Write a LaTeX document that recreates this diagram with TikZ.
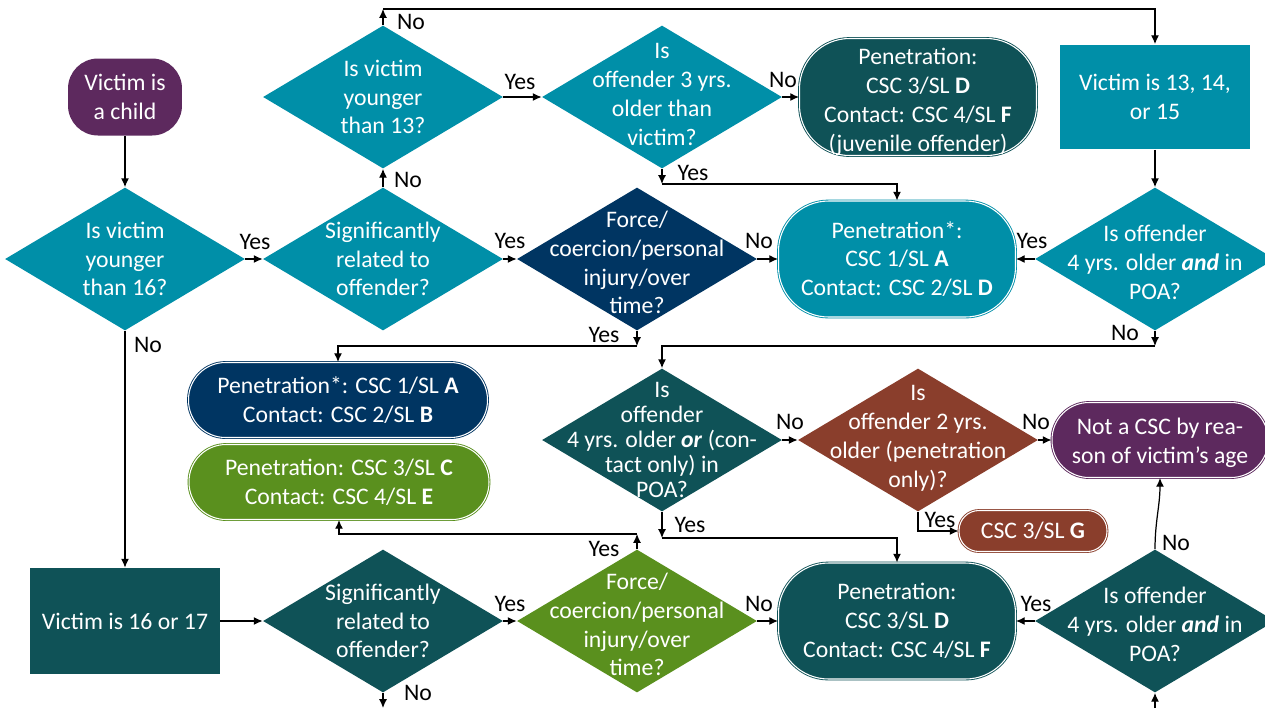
\documentclass[tikz,border=0pt]{standalone}
\usepackage{fontspec}
\setmainfont{Carlito}
\usetikzlibrary{shapes.geometric,arrows.meta}

\definecolor{cpurple}{RGB}{93,41,94}
\definecolor{cteal}{RGB}{0,143,168}
\definecolor{cdark}{RGB}{15,82,87}
\definecolor{cnavy}{RGB}{0,53,98}
\definecolor{cgreen}{RGB}{90,144,30}
\definecolor{cbrown}{RGB}{138,62,44}

\tikzset{
  dia/.style={diamond, minimum width=4.8cm, minimum height=2.86cm, inner sep=0pt, fill=#1, draw=none},
  txt/.style={text=white, align=center, font=\fontsize{13.5}{16.4}\selectfont, inner sep=0pt},
  term/.style={fill=#1, draw=#1, double=white, double distance=0.6pt, line width=0.5pt},
  boxx/.style={fill=#1, draw=none},
  lab/.style={font=\fontsize{13.5}{16}\selectfont, inner sep=0pt, text=black},
  conn/.style={draw=black, line width=0.7pt, -{Latex[length=5pt,width=4.5pt]}},
}

\begin{document}
\begin{tikzpicture}[x=0.02cm,y=-0.02cm]
\useasboundingbox (0,0) rectangle (1265,708);
\fill[white] (0,0) rectangle (1265,708);

% ---- nodes ----
\node[boxx=cpurple, rounded corners=0.6cm, minimum width=2.28cm, minimum height=1.54cm, txt] (child) at (125,97) {Victim is\\a child};

\node[dia=cteal] (d16) at (125,259) {};
\node[txt] (d16t) at (d16) {Is victim\\younger\\than 16?};

\node[dia=cteal] (s1) at (383,259) {};
\node[txt] (s1t) at (s1) {Significantly\\related to\\offender?};

\node[dia=cteal] (y13) at (383,97) {};
\node[txt] (y13t) at (y13) {Is victim\\younger\\than 13?};

\node[dia=cteal] (o3) at (662,97) {};
\node[txt] (o3t) at ([yshift=1.5pt]o3) {Is\\offender 3 yrs.\\older than\\victim?};

\node[term=cdark, rounded corners=1cm, minimum width=4.74cm, minimum height=2.34cm] (juv) at (918,97) {};
\node[txt] (juvt) at ([yshift=-2.8pt]juv) {Penetration:\\CSC 3/SL \textbf{D}\\Contact: CSC 4/SL \textbf{F}\\(juvenile offender)};

\node[boxx=cteal, minimum width=3.82cm, minimum height=2.1cm, txt] (r13) at (1155,97) {Victim is 13, 14,\\or 15};

\node[dia=cnavy] (f1) at (637,259) {};
\node[txt] (f1t) at ([yshift=-2pt]f1) {Force/\\coercion/personal\\injury/over\\time?};

\node[term=cteal, rounded corners=1cm, minimum width=4.74cm, minimum height=2.32cm, txt] (p1) at (897,259) {Penetration*:\\CSC 1/SL \textbf{A}\\Contact: CSC 2/SL \textbf{D}};

\node[dia=cteal] (a1) at (1155,259) {};
\node[txt] (a1t) at ([yshift=-2pt]a1) {Is offender\\4 yrs. older \textbf{\textit{and}} in\\POA?};

\node[term=cnavy, rounded corners=0.74cm, minimum width=5.98cm, minimum height=1.5cm, txt] (navy) at (338,400) {Penetration*: CSC 1/SL \textbf{A}\\Contact: CSC 2/SL \textbf{B}};

\node[term=cgreen, rounded corners=0.74cm, minimum width=6cm, minimum height=1.5cm, txt] (green) at (339,482) {Penetration: CSC 3/SL \textbf{C}\\Contact: CSC 4/SL \textbf{E}};

\node[dia=cdark] (or) at (662,440) {};
\node[txt, font=\fontsize{13.5}{14.3}\selectfont] (ort) at (or) {Is\\offender\\4 yrs. older \textbf{\textit{or}} (con-\\tact only) in\\POA?};

\node[dia=cbrown] (b2) at (918,440) {};
\node[txt] (b2t) at ([yshift=1pt]b2) {Is\\offender 2 yrs.\\older (penetration\\only)?};

\node[term=cpurple, rounded corners=0.74cm, minimum width=4.32cm, minimum height=1.5cm] (nc) at (1160,440) {};
\node[txt] (nct) at ([yshift=-1.5pt]nc) {Not a CSC by rea-\\son of victim’s age};

\node[term=cbrown, rounded corners=0.4cm, minimum width=2.96cm, minimum height=0.82cm, txt] (g) at (1033,531) {CSC 3/SL \textbf{G}};

\node[boxx=cdark, minimum width=3.8cm, minimum height=2.12cm, txt] (r16) at (125,621) {Victim is 16 or 17};

\node[dia=cdark] (s2) at (383,621) {};
\node[txt] (s2t) at (s2) {Significantly\\related to\\offender?};

\node[dia=cgreen] (f2) at (637,621) {};
\node[txt] (f2t) at ([yshift=-2pt]f2) {Force/\\coercion/personal\\injury/over\\time?};

\node[term=cdark, rounded corners=1cm, minimum width=4.74cm, minimum height=2.32cm, txt] (p3) at (897,621) {Penetration:\\CSC 3/SL \textbf{D}\\Contact: CSC 4/SL \textbf{F}};

\node[dia=cdark] (a2) at (1155,621) {};
\node[txt] (a2t) at ([yshift=-2pt]a2) {Is offender\\4 yrs. older \textbf{\textit{and}} in\\POA?};

% ---- helper coordinates ----
\coordinate (c1) at (383,9);
\coordinate (c2) at (662,184);
\coordinate (c3) at (637,346);
\coordinate (c4) at (1155,346);
\coordinate (c5) at (662,538);
\coordinate (c6) at (383,708);
\coordinate (c7) at (637,534);
\coordinate (c8) at (1155,708);

% ---- connectors ----
\draw[conn] (child.south) -- (d16.north);
\draw[conn] (d16.east) -- (s1.west);
\draw[conn] (d16.south) -- (r16.north);
\draw[conn] (s1.north) -- (y13.south);
\draw[conn] (y13.north) -- (c1);
\draw[conn] (c1) -| (r13.north);
\draw[conn] (y13.east) -- (o3.west);
\draw[conn] (o3.east) -- (juv.west);
\draw[conn] (o3.south) -- (c2);
\draw[conn] (c2) -| (p1.north);
\draw[conn] (s1.east) -- (f1.west);
\draw[conn] (f1.east) -- (p1.west);
\draw[conn] (f1.south) -- (c3);
\draw[conn] (c3) -| (navy.north);
\draw[conn] (r13.south) -- (a1.north);
\draw[conn] (a1.west) -- (p1.east);
\draw[conn] (a1.south) -- (c4);
\draw[conn] (c4) -| (or.north);
\draw[conn] (or.east) -- (b2.west);
\draw[conn] (b2.east) -- (nc.west);
\draw[conn] (b2.south) |- (g.west);
\draw[conn] (or.south) -- (c5);
\draw[conn] (c5) -| (p3.north);
\draw[conn] (r16.east) -- (s2.west);
\draw[conn] (s2.south) -- (c6);
\draw[conn] (s2.east) -- (f2.west);
\draw[conn] (f2.east) -- (p3.west);
\draw[conn] (f2.north) -- (c7);
\draw[conn] (c7) -| (green.south);
\draw[conn] (a2.west) -- (p3.east);
\draw[conn] (a2.north) to[out=90,in=-90] (nc.south);
\draw[conn] (c8) -- (a2.south);

% ---- labels ----
\node[lab] (l1) at (255,242) {Yes};
\node[lab] (l2) at (148,345) {No};
\node[lab] (l3) at (408,180) {No};
\node[lab] (l4) at (411,22) {No};
\node[lab] (l5) at (520,82) {Yes};
\node[lab] (l6) at (783,80) {No};
\node[lab] (l7) at (693,173) {Yes};
\node[lab] (l8) at (510,241) {Yes};
\node[lab] (l9) at (759,241) {No};
\node[lab] (l10) at (1032,241) {Yes};
\node[lab] (l11) at (604,335) {Yes};
\node[lab] (l12) at (1125,333) {No};
\node[lab] (l13) at (790,422) {No};
\node[lab] (l14) at (1036,422) {No};
\node[lab] (l15) at (940,520) {Yes};
\node[lab] (l16) at (690,525) {Yes};
\node[lab] (l17) at (604,549) {Yes};
\node[lab] (l18) at (510,604) {Yes};
\node[lab] (l19) at (759,604) {No};
\node[lab] (l20) at (1036,604) {Yes};
\node[lab] (l21) at (1176,543) {No};
\node[lab] (l22) at (418,693) {No};
\end{tikzpicture}
\end{document}
